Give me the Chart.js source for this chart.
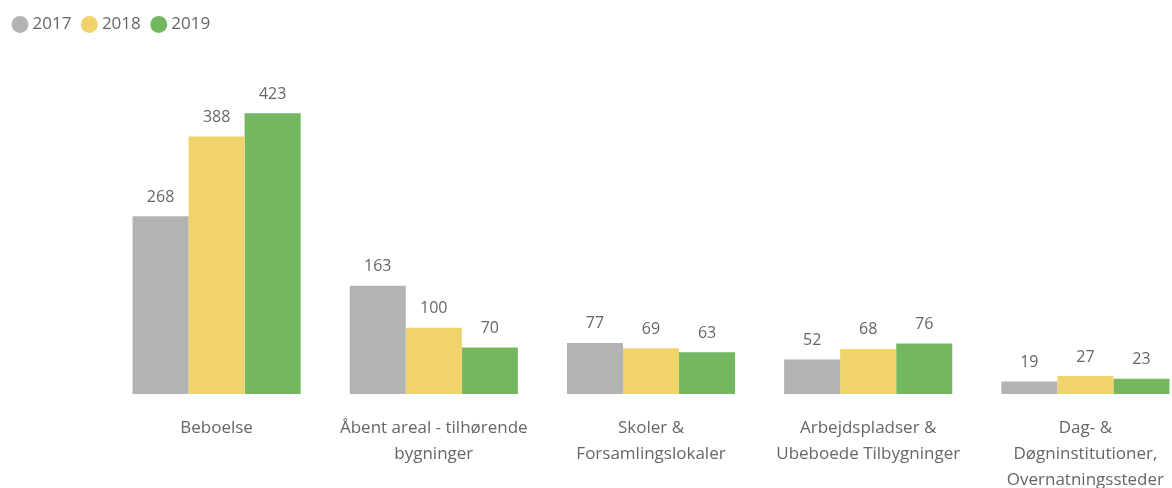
<!DOCTYPE html>
<html>
<head>
<meta charset="utf-8">
<script src="https://cdn.jsdelivr.net/npm/chart.js@4"></script>
<style>
  html, body { margin: 0; padding: 0; background: #fff; overflow: hidden; }
  #wrap { position: absolute; left: 0; top: 0; width: 1194px; height: 506px; }
</style>
</head>
<body>
<div id="wrap"><canvas id="chart" width="1194" height="506"></canvas></div>
<script>
// data
const categories = [
  "Beboelse",
  ["Åbent areal - tilhørende", "bygninger"],
  ["Skoler &", "Forsamlingslokaler"],
  ["Arbejdspladser &", "Ubeboede Tilbygninger"],
  ["Dag- &", "Døgninstitutioner,", "Overnatningssteder"]
];
const years = ["2017", "2018", "2019"];
const values2017 = [268, 163, 77, 52, 19];
const values2018 = [388, 100, 69, 68, 27];
const values2019 = [423, 70, 63, 76, 23];

const colors = ["#b3b3b3", "#f0d36b", "#73b761"];
const FONT = "'Segoe UI', 'Open Sans', sans-serif";

// draws the value above each bar
const valueLabels = {
  id: "valueLabels",
  afterDatasetsDraw(chart) {
    const ctx = chart.ctx;
    ctx.save();
    ctx.font = "16px " + FONT;
    ctx.fillStyle = "#666666";
    ctx.textAlign = "center";
    ctx.textBaseline = "middle";
    chart.data.datasets.forEach((ds, i) => {
      chart.getDatasetMeta(i).data.forEach((bar, j) => {
        ctx.fillText(ds.data[j], bar.x, bar.y - 19);
      });
    });
    ctx.restore();
  }
};

new Chart(document.getElementById("chart"), {
  type: "bar",
  data: {
    labels: categories,
    datasets: [
      { label: years[0], data: values2017, backgroundColor: colors[0] },
      { label: years[1], data: values2018, backgroundColor: colors[1] },
      { label: years[2], data: values2019, backgroundColor: colors[2] }
    ]
  },
  options: {
    responsive: false,
    animation: false,
    devicePixelRatio: 1,
    datasets: { bar: { categoryPercentage: 0.774, barPercentage: 1.0 } },
    layout: { padding: { left: 2, right: 0, top: 2, bottom: 0 } },
    plugins: {
      legend: {
        align: "start",
        labels: {
          usePointStyle: true,
          pointStyle: "circle",
          boxWidth: 8,
          boxHeight: 12,
          padding: 14,
          color: "#666666",
          font: { family: FONT, size: 17 }
        }
      },
      tooltip: { enabled: false }
    },
    scales: {
      x: {
        grid: { display: false },
        border: { display: false },
        ticks: {
          color: "#666666",
          maxRotation: 0,
          autoSkip: false,
          padding: 13,
          font: { family: FONT, size: 17, lineHeight: "26px" }
        }
      },
      y: {
        min: 0,
        max: 529,
        grid: { display: false },
        border: { display: false },
        ticks: { display: false },
        // invisible axis just to hold the left margin
        afterFit: scale => { scale.width = 106; }
      }
    }
  },
  plugins: [valueLabels]
});
</script>
</body>
</html>
